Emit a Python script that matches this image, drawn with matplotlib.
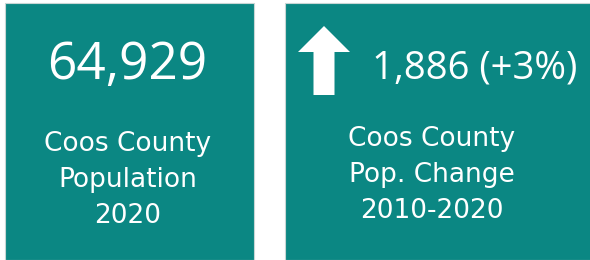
import matplotlib
matplotlib.use("Agg")
import matplotlib.pyplot as plt
from matplotlib.patches import Rectangle, FancyArrow

# card contents
card_values = ["64,929", "1,886 (+3%)"]
card_labels = ["Coos County\nPopulation\n2020", "Coos County\nPop. Change\n2010-2020"]
card_trend = [None, "up"]

TEAL = "#0b8783"
W, H = 590, 260

fig = plt.figure(figsize=(W / 100, H / 100), dpi=100)
ax = fig.add_axes([0, 0, 1, 1])
ax.set_xlim(0, W)
ax.set_ylim(H, 0)
ax.axis("off")

# card boxes in pixel coords: (x0, y0, x1, y1)
boxes = [(5, 3, 254, 260), (285, 3, 591, 260)]
value_pos = [(127, 65), (475, 68)]
value_size = [37, 27.5]
label_pos = [(128, 180), (432, 175)]

for i, (x0, y0, x1, y1) in enumerate(boxes):
    ax.add_patch(Rectangle((x0, y0), x1 - x0, y1 - y0, facecolor=TEAL,
                           edgecolor="#c8d6d5", linewidth=0.8))
    vx, vy = value_pos[i]
    ax.text(vx, vy, card_values[i], color="white", fontsize=value_size[i],
            family="Open Sans", ha="center", va="center")
    lx, ly = label_pos[i]
    ax.text(lx, ly, card_labels[i], color="white", fontsize=19,
            family="DejaVu Sans", ha="center", va="center", linespacing=1.48)
    if card_trend[i] == "up":
        ax.add_patch(FancyArrow(324, 95, 0, -69, width=21, head_width=52,
                                head_length=26, length_includes_head=True,
                                facecolor="white", edgecolor="none"))

fig.savefig("out.png", dpi=100)
